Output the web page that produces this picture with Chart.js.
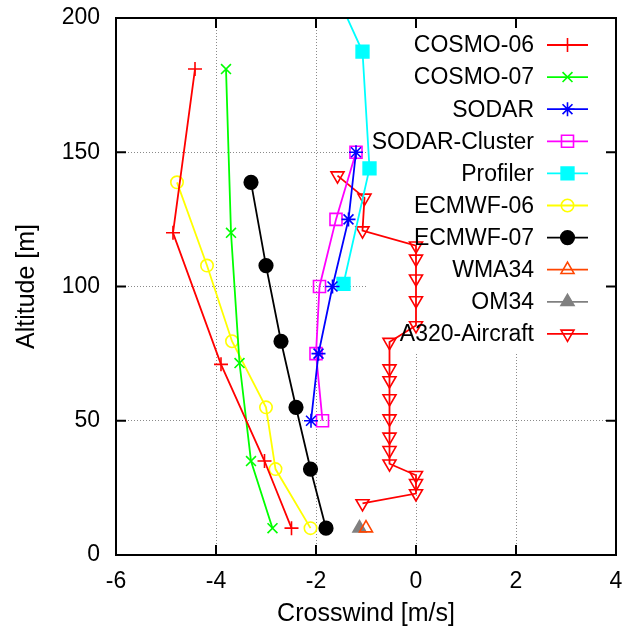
<!DOCTYPE html>
<html>
<head>
<meta charset="utf-8">
<script src="https://cdn.jsdelivr.net/npm/chart.js@4.4.1/dist/chart.umd.min.js"></script>
<style>
	html, body { margin: 0; padding: 0; background: #fff; }
	#wrap { width: 622px; height: 637px; }
</style>
</head>
<body>
<div id="wrap"><canvas id="myChart" width="622" height="637"></canvas></div>
<script>
// crosswind [m/s] and altitude [m]
const cosmo06_x = [-2.49, -3.03, -3.9, -4.86, -4.42];
const cosmo06_h = [10, 35, 71, 120, 181];

const cosmo07_x = [-2.87, -3.3, -3.53, -3.7, -3.8];
const cosmo07_h = [10, 35, 71.5, 120, 181];

const sodar_x = [-2.1, -1.95, -1.67, -1.35, -1.2];
const sodar_h = [50, 75, 100, 125, 150];

const cluster_x = [-1.87, -2.0, -1.93, -1.6, -1.2];
const cluster_h = [50, 75, 100, 125, 150];

const profiler_x = [-1.45, -0.93, -1.07, -1.62];
const profiler_h = [101, 144, 187.5, 210];

const ecmwf06_x = [-2.11, -2.81, -3.0, -3.68, -4.18, -4.78];
const ecmwf06_h = [10, 32, 55, 79.6, 107.8, 138.8];

const ecmwf07_x = [-1.8, -2.11, -2.4, -2.7, -3.0, -3.3];
const ecmwf07_h = [10, 32, 55, 79.6, 107.8, 138.8];

const wma34_x = [-1.0];
const wma34_h = [10];

const om34_x = [-1.13];
const om34_h = [10];

const a320_x = [-1.57, -1.03, -1.07, 0, 0, 0, 0, 0, -0.53, -0.53, -0.53, -0.53, -0.53, -0.53, -0.53, -0.53, 0, 0, 0, -1.07];
const a320_h = [141.3, 133, 120.8, 115.2, 110.3, 102.9, 94.8, 85.5, 79.3, 69.4, 65, 58.3, 50.8, 44, 39, 34, 29.7, 26.7, 22.9, 19.2];

const x_ticks = [-6, -4, -2, 0, 2, 4];
const y_ticks = [0, 50, 100, 150, 200];

function pts(xs, hs) {
	return xs.map((v, i) => ({ x: v, y: hs[i] }));
}

function series(label, xs, hs, color, style, radius, filled, rotation) {
	return {
		label: label,
		data: pts(xs, hs),
		borderColor: color,
		backgroundColor: filled ? color : 'rgba(0,0,0,0)',
		borderWidth: 1.8,
		pointStyle: style,
		pointRadius: radius,
		pointBorderWidth: 1.6,
		pointRotation: rotation || 0,
		pointHoverRadius: radius,
		tension: 0,
		fill: false,
	};
}

const datasets = [
	series('COSMO-06', cosmo06_x, cosmo06_h, '#ff0000', 'cross', 7, false),
	series('COSMO-07', cosmo07_x, cosmo07_h, '#00ff00', 'crossRot', 7, false),
	series('SODAR', sodar_x, sodar_h, '#0000ff', 'star', 7, false),
	series('SODAR-Cluster', cluster_x, cluster_h, '#ff00ff', 'rect', 8.5, false),
	series('Profiler', profiler_x, profiler_h, '#00ffff', 'rect', 9, true),
	series('ECMWF-06', ecmwf06_x, ecmwf06_h, '#ffff00', 'circle', 6.2, false),
	series('ECMWF-07', ecmwf07_x, ecmwf07_h, '#000000', 'circle', 6.8, true),
	series('WMA34', wma34_x, wma34_h, '#ff4500', 'triangle', 7.5, false),
	series('OM34', om34_x, om34_h, '#808080', 'triangle', 7.5, true),
	series('A320-Aircraft', a320_x, a320_h, '#ff0000', 'triangle', 7.5, false, 180),
];

// key box of the original is opaque: it hides the grid under it
const keyBox = {
	id: 'keyBox',
	beforeDatasetsDraw(chart) {
		const { ctx, chartArea } = chart;
		ctx.save();
		ctx.fillStyle = '#fff';
		ctx.fillRect(366, chartArea.top + 1, chartArea.right - 366 - 1, 352 - chartArea.top);
		ctx.restore();
	},
	afterDatasetsDraw(chart) {
		const { ctx } = chart;
		ctx.save();
		ctx.font = '23px "Liberation Sans", Arial, sans-serif';
		ctx.textAlign = 'right';
		ctx.textBaseline = 'middle';
		chart.data.datasets.forEach((ds, i) => {
			const y = 45 + i * 32.1;
			ctx.fillStyle = '#000';
			ctx.fillText(ds.label, 534, y + 1);
			ctx.strokeStyle = ds.borderColor;
			ctx.lineWidth = ds.borderWidth;
			ctx.beginPath();
			ctx.moveTo(547, y);
			ctx.lineTo(588, y);
			ctx.stroke();
			ctx.fillStyle = ds.backgroundColor;
			ctx.lineWidth = ds.pointBorderWidth;
			Chart.helpers.drawPoint(ctx, {
				pointStyle: ds.pointStyle,
				rotation: ds.pointRotation,
				radius: ds.pointRadius,
				borderWidth: ds.pointBorderWidth,
			}, 567.5, y);
		});
		ctx.restore();
	},
	afterDraw(chart) {
		// frame and inward ticks on all four sides
		const { ctx, chartArea, scales } = chart;
		const a = chartArea;
		ctx.save();
		ctx.strokeStyle = '#000';
		ctx.lineWidth = 2;
		ctx.strokeRect(a.left, a.top, a.right - a.left, a.bottom - a.top);
		ctx.beginPath();
		x_ticks.slice(1, -1).forEach(v => {
			const px = scales.x.getPixelForValue(v);
			ctx.moveTo(px, a.bottom); ctx.lineTo(px, a.bottom - 10);
			ctx.moveTo(px, a.top); ctx.lineTo(px, a.top + 10);
		});
		y_ticks.slice(1, -1).forEach(v => {
			const py = scales.y.getPixelForValue(v);
			ctx.moveTo(a.left, py); ctx.lineTo(a.left + 10, py);
			ctx.moveTo(a.right, py); ctx.lineTo(a.right - 10, py);
		});
		ctx.stroke();
		ctx.restore();
	},
};

function gridColor(ctx) {
	const v = ctx.tick ? ctx.tick.value : null;
	return (v === ctx.scale.min || v === ctx.scale.max) ? 'rgba(0,0,0,0)' : '#8a8a8a';
}

const config = {
	type: 'line',
	data: { datasets: datasets },
	options: {
		responsive: false,
		animation: false,
		layout: { autoPadding: false, padding: { top: 18, right: 6, left: 0, bottom: 0 } },
		plugins: {
			legend: { display: false },
			tooltip: { enabled: false },
		},
		scales: {
			x: {
				type: 'linear',
				min: -6,
				max: 4,
				afterFit: s => { s.height = 82; s.paddingLeft = 0; s.paddingRight = 0; },
				afterBuildTicks: s => { s.ticks = x_ticks.map(v => ({ value: v })); },
				grid: { color: gridColor, lineWidth: 1, drawTicks: false },
				border: { display: false, dash: [1, 2] },
				ticks: {
					padding: 13,
					color: '#000',
					font: { family: '"Liberation Sans", Arial, sans-serif', size: 23 },
					maxRotation: 0,
				},
				title: {
					display: true,
					text: 'Crosswind [m/s]',
					color: '#000',
					font: { family: '"Liberation Sans", Arial, sans-serif', size: 25 },
					padding: { top: 0, bottom: 8 },
				},
			},
			y: {
				type: 'linear',
				min: 0,
				max: 200,
				afterFit: s => { s.width = 116; s.paddingTop = 0; s.paddingBottom = 0; },
				afterBuildTicks: s => { s.ticks = y_ticks.map(v => ({ value: v })); },
				grid: { color: gridColor, lineWidth: 1, drawTicks: false },
				border: { display: false, dash: [1, 2] },
				ticks: {
					padding: 16,
					color: '#000',
					font: { family: '"Liberation Sans", Arial, sans-serif', size: 23 },
				},
				title: {
					display: true,
					text: 'Altitude [m]',
					color: '#000',
					font: { family: '"Liberation Sans", Arial, sans-serif', size: 25 },
					padding: { top: 12, bottom: 0 },
				},
			},
		},
	},
	plugins: [keyBox],
};

var myChart = new Chart(document.getElementById('myChart'), config);
</script>
</body>
</html>
